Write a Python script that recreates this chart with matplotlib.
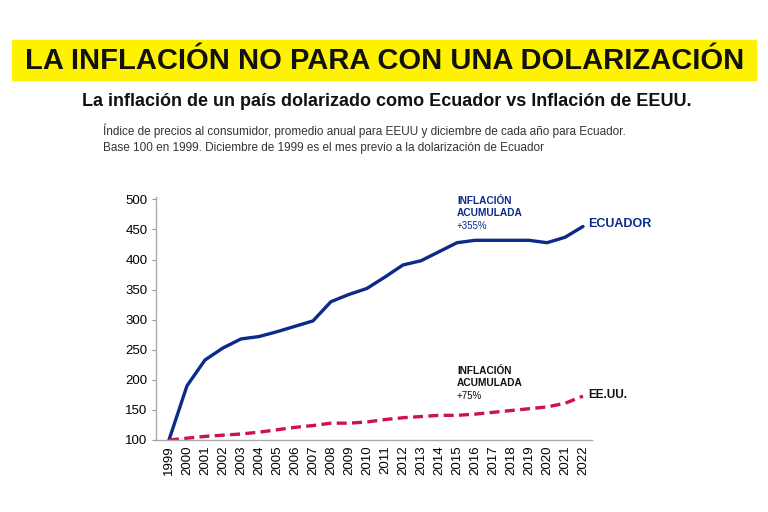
import matplotlib.pyplot as plt

anios = list(range(1999, 2023))
ecuador = [100, 190, 233, 253, 268, 272, 280, 289, 298, 330, 342, 352,
           371, 391, 398, 413, 428, 432, 432, 432, 432, 428, 437, 455]
eeuu = [100, 103, 106, 108, 110, 113, 117, 121, 124, 128, 128, 130,
        134, 137, 139, 141, 141, 143, 146, 149, 152, 155, 161, 173]

plt.rcParams['font.family'] = ['Liberation Sans', 'DejaVu Sans']

W, H = 768, 512
fig = plt.figure(figsize=(W / 100, H / 100), dpi=100)

def px(x, y):
    return x / W, 1 - y / H

# titulo con fondo amarillo
fig.patches.append(plt.Rectangle(px(12, 80), 744 / W, 40 / H, transform=fig.transFigure,
                                 color="#fff200", zorder=0))
fig.text(*px(385, 61), "LA INFLACIÓN NO PARA CON UNA DOLARIZACIÓN", ha="center", va="center",
         fontsize=21, fontweight="bold", color="#111111")
fig.text(*px(387, 102), "La inflación de un país dolarizado como Ecuador vs Inflación de EEUU.",
         ha="center", va="center", fontsize=13, fontweight="bold", color="#111111")
fig.text(*px(103, 131), "Índice de precios al consumidor, promedio anual para EEUU y diciembre de cada año para Ecuador.",
         ha="left", va="center", fontsize=8.5, color="#333333")
fig.text(*px(103, 148), "Base 100 en 1999. Diciembre de 1999 es el mes previo a la dolarización de Ecuador",
         ha="left", va="center", fontsize=8.5, color="#333333")

ax = fig.add_axes([156 / W, 1 - 440 / H, (592 - 156) / W, (440 - 197) / H])
azul = "#0b2a8a"
rojo = "#cc1446"
ax.plot(anios, ecuador, color=azul, lw=2.4, solid_capstyle="round")
ax.plot(anios, eeuu, color=rojo, lw=2.4, ls=(0, (3, 1.6)))

ax.set_xlim(1998.28, 2022.5)
ax.set_ylim(100, 504)
ax.set_yticks(range(100, 501, 50))
ax.set_xticks(anios)
ax.set_xticklabels([str(a) for a in anios], rotation=90, fontsize=9.5)
ax.tick_params(axis="y", labelsize=9.5, length=3, color="#999999", pad=3)
ax.tick_params(axis="x", length=0, pad=4)
for s in ["top", "right"]:
    ax.spines[s].set_visible(False)
for s in ["left", "bottom"]:
    ax.spines[s].set_color("#aaaaaa")
    ax.spines[s].set_linewidth(1)

fig.text(*px(457, 207), "INFLACIÓN\nACUMULADA", ha="left", va="center", fontsize=7.3,
         fontweight="bold", color=azul, linespacing=1.3)
fig.text(*px(457, 226), "+355%", ha="left", va="center", fontsize=7, color=azul)
fig.text(*px(588, 224), "ECUADOR", ha="left", va="center", fontsize=9, fontweight="bold", color=azul)

fig.text(*px(457, 377), "INFLACIÓN\nACUMULADA", ha="left", va="center", fontsize=7.3,
         fontweight="bold", color="#111111", linespacing=1.3)
fig.text(*px(457, 396), "+75%", ha="left", va="center", fontsize=7, color="#111111")
fig.text(*px(588, 395), "EE.UU.", ha="left", va="center", fontsize=8.5, fontweight="bold", color="#111111")

fig.savefig("out.png", dpi=100)
